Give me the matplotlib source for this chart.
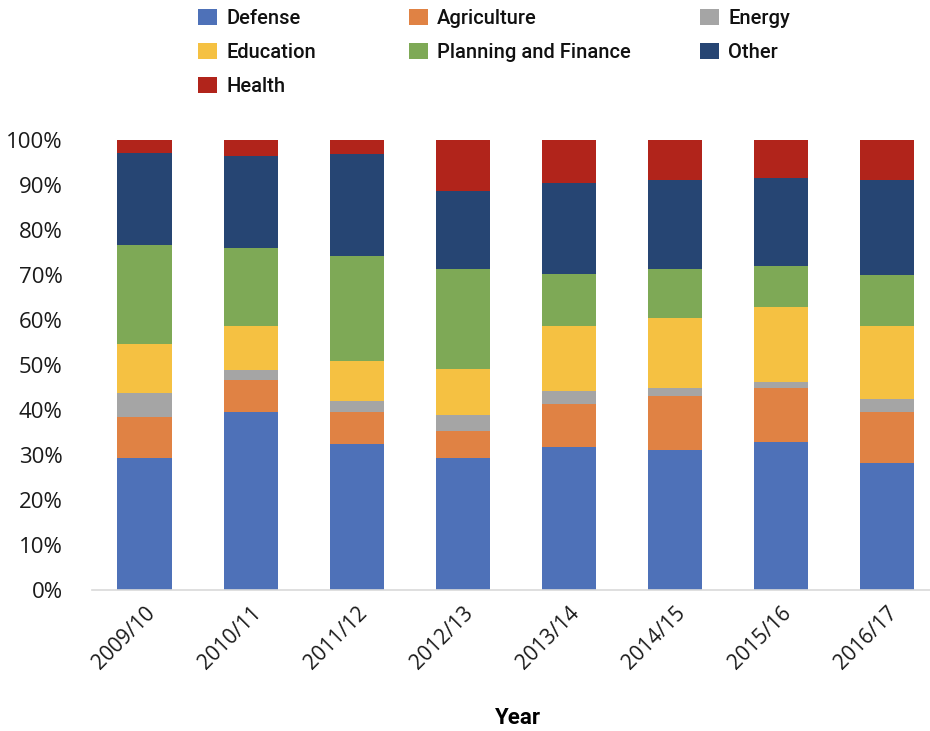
import matplotlib
matplotlib.use("Agg")
import matplotlib.pyplot as plt
from matplotlib.patches import Rectangle
from matplotlib.ticker import PercentFormatter
import numpy as np

# shares per year (percent)
years = ["2009/10", "2010/11", "2011/12", "2012/13", "2013/14", "2014/15", "2015/16", "2016/17"]
defense = [29.3, 39.6, 32.4, 29.3, 31.8, 31.2, 32.9, 28.2]
agriculture = [9.1, 7.1, 7.2, 6.1, 9.6, 12.0, 12.0, 11.3]
energy = [5.4, 2.3, 2.3, 3.5, 2.8, 1.8, 1.3, 3.0]
education = [10.8, 9.7, 9.0, 10.2, 14.5, 15.5, 16.8, 16.2]
planning = [22.1, 17.4, 23.3, 22.2, 11.5, 10.8, 8.9, 11.4]
other = [20.3, 20.4, 22.8, 17.4, 20.2, 19.8, 19.7, 21.0]
health = [3.0, 3.5, 3.0, 11.3, 9.6, 8.9, 8.4, 8.9]

series = [
    ("Defense", defense, "#4E71B8"),
    ("Agriculture", agriculture, "#E08244"),
    ("Energy", energy, "#A5A5A5"),
    ("Education", education, "#F5C142"),
    ("Planning and Finance", planning, "#7EA956"),
    ("Other", other, "#264573"),
    ("Health", health, "#B1241B"),
]

W, H = 930, 731
fig = plt.figure(figsize=(W / 100, H / 100), dpi=100)
# axes placed in pixel terms: bottom at y=590, top at y=140
ax = fig.add_axes([92 / W, (H - 590) / H, (940 - 92) / W, 450 / H])

x = np.arange(len(years))
totals = np.sum([s[1] for s in series], axis=0)
bottom = np.zeros(len(years))
for name, vals, col in series:
    frac = np.array(vals) / totals
    ax.bar(x, frac, width=0.51, bottom=bottom, color=col, label=name, linewidth=0)
    bottom += frac

ax.set_ylim(0, 1)
ax.set_xlim(-0.495, 7.5)
ax.set_yticks(np.arange(0, 1.01, 0.1))
ax.yaxis.set_major_formatter(PercentFormatter(1.0, decimals=0))
ax.set_xticks(x)
ax.set_xticklabels(years, rotation=45, ha="right", rotation_mode="anchor")
ax.tick_params(axis="both", length=0, labelsize=15, colors="#1a1a1a")
ax.tick_params(axis="y", pad=21, labelsize=16)
ax.tick_params(axis="x", pad=9)
for lab in ax.get_xticklabels() + ax.get_yticklabels():
    lab.set_fontfamily("Open Sans")
for sp in ["top", "right", "left"]:
    ax.spines[sp].set_visible(False)
ax.spines["bottom"].set_color("#D9D9D9")
ax.spines["bottom"].set_linewidth(1.2)

fig.text(518 / W, 1 - 718 / H, "Year", ha="center", va="center",
         fontsize=16, fontweight="bold", family="Roboto")

# legend laid out in three fixed columns like the original
cols_x = [198, 409, 700]
rows_y = [17, 51, 85]
order = [(0, 0), (1, 0), (2, 0), (0, 1), (1, 1), (2, 1), (0, 2)]
for (name, vals, col), (ci, ri) in zip(series, order):
    sx, sy = cols_x[ci], rows_y[ri]
    fig.add_artist(Rectangle((sx / W, 1 - (sy + 8) / H), 19 / W, 16 / H,
                             transform=fig.transFigure, facecolor=col, edgecolor="none"))
    fig.text((sx + 28) / W, 1 - (sy + 2) / H, name, ha="left", va="center",
             fontsize=14.5, fontweight="medium", family="Roboto", color="#111111")

fig.savefig("out.png", dpi=100)
